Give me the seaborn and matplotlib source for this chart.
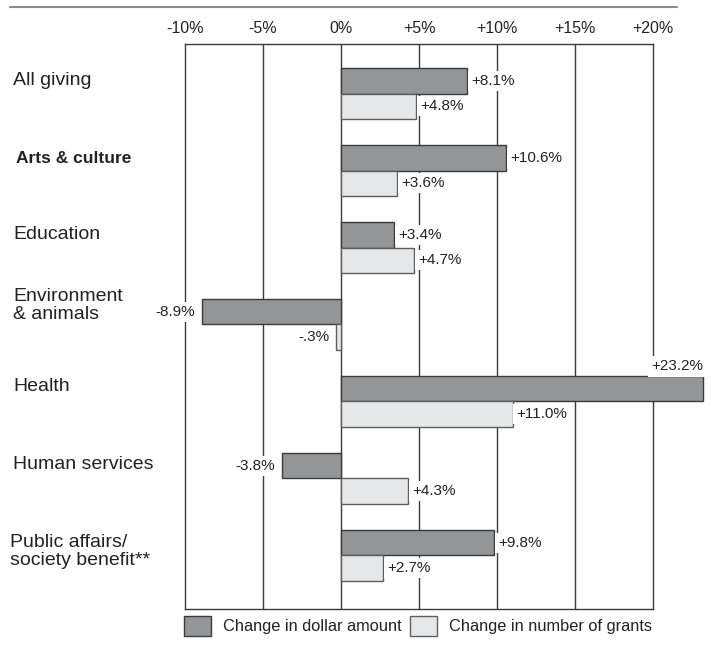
import matplotlib
matplotlib.use("Agg")
import matplotlib.pyplot as plt
import matplotlib.transforms as mtransforms
from matplotlib.patches import Patch
from matplotlib.lines import Line2D
import pandas as pd
import seaborn as sns

# ---- data -----------------------------------------------------------------
categories = [
    "All giving",
    "Arts & culture",
    "Education",
    "Environment\n& animals",
    "Health",
    "Human services",
    "Public affairs/\nsociety benefit**",
]
dollar_change = [8.1, 10.6, 3.4, -8.9, 23.2, -3.8, 9.8]
grants_change = [4.8, 3.6, 4.7, -0.3, 11.0, 4.3, 2.7]
series_names = ["Change in dollar amount", "Change in number of grants"]
tick_values = [-10, -5, 0, 5, 10, 15, 20]
tick_labels = ["-10%", "-5%", "0%", "+5%", "+10%", "+15%", "+20%"]

# ---- style ----------------------------------------------------------------
DARK = "#939598"
LIGHT = "#e6e7e8"
LINE = "#3a3a3a"
LIGHT_EDGE = "#5e5e5e"
TEXT = "#222222"

sns.set_style("white")
plt.rcParams["font.family"] = ["Liberation Sans", "DejaVu Sans"]

W, H = 711, 647
PX = 0.72  # points per pixel at dpi 100

df = pd.DataFrame({
    "category": categories * 2,
    "series": [series_names[0]] * len(categories) + [series_names[1]] * len(categories),
    "value": dollar_change + grants_change,
})

fig = plt.figure(figsize=(W / 100, H / 100), dpi=100)
ax = fig.add_axes([185 / W, (H - 609) / H, 468 / W, 565 / H])

sns.barplot(
    data=df, y="category", x="value", hue="series",
    order=categories, hue_order=series_names,
    palette=[DARK, LIGHT], orient="h", width=0.65, dodge=True,
    edgecolor=LINE, linewidth=1.0, legend=False, ax=ax, zorder=2,
)

XMIN, XMAX = -10, 20
ax.set_xlim(XMIN, XMAX)
ax.set_ylim(6.695, -0.643)
ax.set_ylabel("")
ax.set_xlabel("")
ax.set_yticks([])

# vertical reference lines
for t in tick_values[1:-1]:
    ax.axvline(t, color=LINE, lw=1.0, zorder=1)

for side, sp in ax.spines.items():
    sp.set_visible(True)
    sp.set_color(LINE)
    sp.set_linewidth(1.0)
ax.spines["right"].set_zorder(1)

ax.xaxis.set_ticks_position("top")
ax.set_xticks(tick_values, tick_labels)
ax.tick_params(axis="x", length=0, pad=6, labelsize=11.5, colors=TEXT)


def fmt(v):
    s = f"{v:+.1f}%"
    return s.replace("+0.", "+.").replace("-0.", "-.")


# bar edges and value labels (white backing breaks the grid lines behind them)
label_box = dict(facecolor="white", edgecolor="none", boxstyle="square,pad=0.22")
for container, values, edge in zip(ax.containers, [dollar_change, grants_change], [LINE, LIGHT_EDGE]):
    for bar, v in zip(container, values):
        bar.set_edgecolor(edge)
        bar.set_clip_on(False)
        yc = bar.get_y() + bar.get_height() / 2
        if v > XMAX:
            ax.annotate(fmt(v), (v, bar.get_y()), xytext=(0, 3 * PX),
                        textcoords="offset points", ha="right", va="bottom",
                        fontsize=11, color=TEXT, bbox=label_box, zorder=4,
                        annotation_clip=False)
        elif v >= 0:
            ax.annotate(fmt(v), (v, yc), xytext=(4 * PX, 0),
                        textcoords="offset points", ha="left", va="center",
                        fontsize=11, color=TEXT, bbox=label_box, zorder=4)
        else:
            ax.annotate(fmt(v), (v, yc), xytext=(-7 * PX, 0),
                        textcoords="offset points", ha="right", va="center",
                        fontsize=11, color=TEXT, bbox=label_box, zorder=4)

# category labels on the left
ROW = 77.0  # pixels per category row
label_x = [13, 16, 13, 13, 13, 13, 10]
label_dy = [-13.5, -12.5, -13.5, -19, -14.5, -13.5, -4]
label_weight = ["normal", "bold", "normal", "normal", "normal", "normal", "normal"]
label_size = [14, 12.5, 14, 14, 14, 14, 14]
trans = mtransforms.blended_transform_factory(fig.transFigure, ax.transData)
for i, cat in enumerate(categories):
    ax.text(label_x[i] / W, i + label_dy[i] / ROW, cat, transform=trans,
            ha="left", va="center", fontsize=label_size[i],
            fontweight=label_weight[i], color=TEXT, linespacing=1.05,
            clip_on=False)

# rule across the top
fig.add_artist(Line2D([10 / W, 677 / W], [1 - 7 / H] * 2, color="#8a8a8a", lw=1.5))

# legend below the plot
fs_px = 11.8 / PX
handles = [
    Patch(facecolor=DARK, edgecolor=LINE, linewidth=1.0),
    Patch(facecolor=LIGHT, edgecolor=LIGHT_EDGE, linewidth=1.0),
]
fig.legend(handles, series_names, loc="center left",
           bbox_to_anchor=(184 / W, 1 - 626 / H), ncol=2, frameon=False,
           borderpad=0, borderaxespad=0, fontsize=11.8,
           handlelength=27 / fs_px, handleheight=25 / fs_px,
           handletextpad=12 / fs_px, columnspacing=8 / fs_px,
           labelcolor=TEXT)

fig.savefig("out.png", dpi=100)
